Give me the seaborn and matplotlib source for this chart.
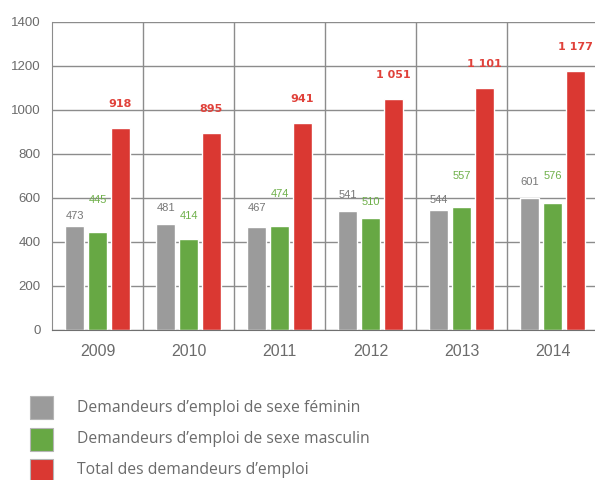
import numpy as np
import pandas as pd
import matplotlib
matplotlib.use('Agg')
import matplotlib.pyplot as plt
import seaborn as sns
from matplotlib.patches import Rectangle

sns.set_style('white')
plt.rcParams['font.family'] = ['Liberation Sans', 'DejaVu Sans']

years = ['2009', '2010', '2011', '2012', '2013', '2014']
femmes = [473, 481, 467, 541, 544, 601]
hommes = [445, 414, 474, 510, 557, 576]
total = [918, 895, 941, 1051, 1101, 1177]
series = ['Demandeurs d\u2019emploi de sexe féminin',
          'Demandeurs d\u2019emploi de sexe masculin',
          'Total des demandeurs d\u2019emploi']
colors = ['#9b9b9b', '#67a844', '#da3832']

# label offsets above each bar (value units)
off_f = [45, 74, 88, 73, 47, 72]
off_h = [146, 104, 144, 72, 143, 124]
off_t = 110

df = pd.DataFrame({
    'annee': years * 3,
    'valeur': femmes + hommes + total,
    'serie': [series[0]] * 6 + [series[1]] * 6 + [series[2]] * 6,
})

W, H = 595, 480
fig = plt.figure(figsize=(W / 100, H / 100), dpi=100)
ax = fig.add_axes([0.0874, 0.3125, 0.918, 0.6417])

sns.barplot(data=df, x='annee', y='valeur', hue='serie', palette=colors,
            width=0.75, gap=0.16, saturation=1, legend=False, ax=ax)

ax.set_ylim(0, 1400)
ax.set_xlim(-0.5, 5.5)
ax.set_yticks(range(0, 1401, 200))
ax.set_xticks(range(6))
ax.set_xticks(np.arange(0.5, 5.5, 1), minor=True)
ax.grid(axis='y', color='#8c8c8c', lw=1)
ax.grid(axis='x', which='minor', color='#8c8c8c', lw=1)
ax.set_axisbelow(True)
ax.tick_params(axis='both', which='both', length=0)
ax.tick_params(axis='y', labelsize=9.5, labelcolor='#6b6b6b', pad=8)
ax.tick_params(axis='x', labelsize=11.5, labelcolor='#6b6b6b', pad=10)
ax.set_xlabel('')
ax.set_ylabel('')
for s in ['top', 'right']:
    ax.spines[s].set_visible(False)
ax.spines['left'].set_color('#8c8c8c')
ax.spines['bottom'].set_color('#707070')

for i, p in enumerate(ax.containers[0].patches):
    x = p.get_x() + p.get_width() / 2
    ax.text(x, femmes[i] + off_f[i], str(femmes[i]), ha='center', va='center',
            fontsize=8, color='#777777')
for i, p in enumerate(ax.containers[1].patches):
    x = p.get_x() + p.get_width() / 2
    ax.text(x, hommes[i] + off_h[i], str(hommes[i]), ha='center', va='center',
            fontsize=8, color='#6fb04a')
for i, p in enumerate(ax.containers[2].patches):
    x = p.get_x() + p.get_width() / 2
    lab = f'{total[i]:,}'.replace(',', ' ')
    ax.text(x, total[i] + off_t, lab, ha='center', va='center',
            fontsize=8, fontweight='bold', color='#e0413a', family='DejaVu Sans')

# legend drawn by hand (square swatches + text)
for k, (c, lab) in enumerate(zip(colors, series)):
    top = 396 + k * 31.5
    fig.add_artist(Rectangle((30 / W, 1 - (top + 23) / H), 23 / W, 23 / H,
                             facecolor=c, edgecolor='#b5b5b5', lw=0.8,
                             transform=fig.transFigure))
    fig.text(77 / W, 1 - (top + 11.5) / H, lab, ha='left', va='center',
             fontsize=11.3, color='#6b6b6b', family=['Open Sans', 'DejaVu Sans'])

fig.savefig('out.png', dpi=100)
